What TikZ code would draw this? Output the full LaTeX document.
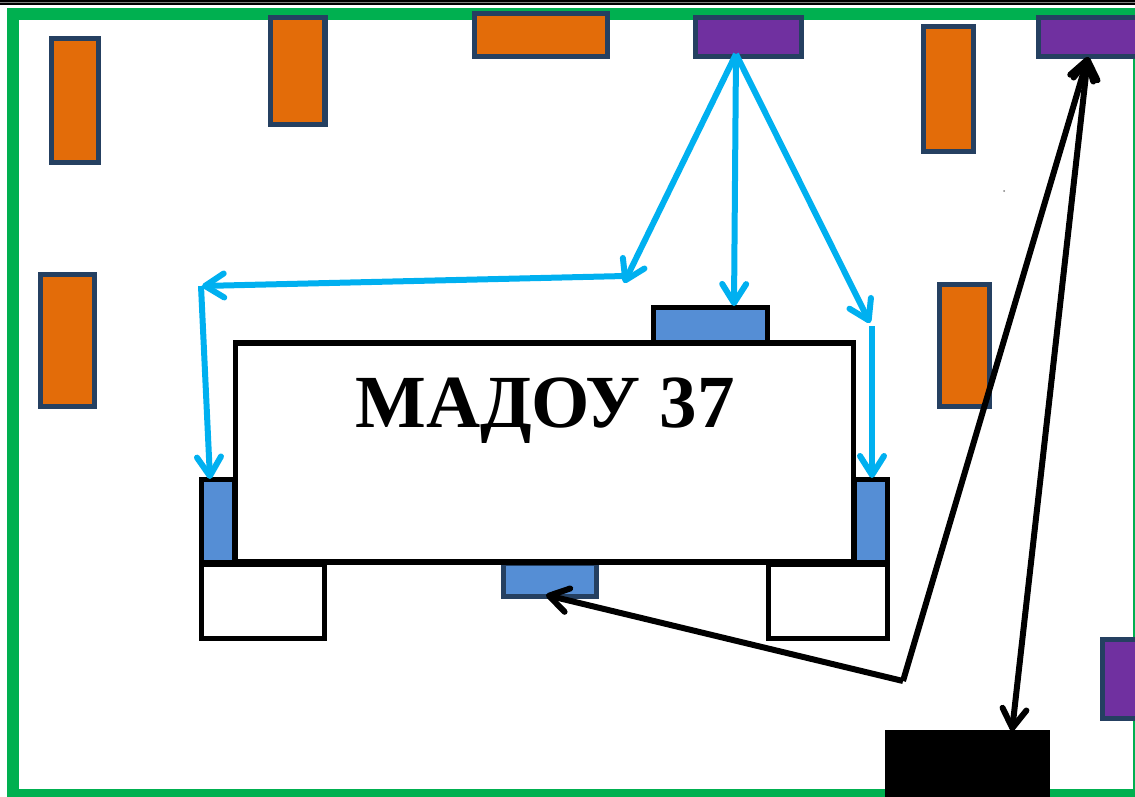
\documentclass[tikz,border=0pt]{standalone}
\usepackage{fontspec}
\setmainfont{Liberation Serif}
\usetikzlibrary{arrows.meta}
\definecolor{frameG}{HTML}{00B050}
\definecolor{orangeF}{HTML}{E36C09}
\definecolor{purpleF}{HTML}{7030A0}
\definecolor{navyB}{HTML}{254061}
\definecolor{blueF}{HTML}{558ED5}
\definecolor{cyanA}{HTML}{00B0F0}
\tikzset{
  boxbase/.style={rectangle,inner sep=0pt,outer sep=0pt,line width=5.4pt},
  orangebox/.style={boxbase,draw=navyB,fill=orangeF},
  purplebox/.style={boxbase,draw=navyB,fill=purpleF},
  bluenavy/.style={boxbase,draw=navyB,fill=blueF},
  blueblack/.style={boxbase,draw=black,fill=blueF},
  whitebox/.style={boxbase,draw=black,fill=white},
  cyanline/.style={draw=cyanA,line width=6pt},
  blackline/.style={draw=black,line width=6pt},
  >={Straight Barb[length=19pt,width=24pt,line width=6pt,line cap=round,round]},
}
\newcommand{\bx}[6]{\node[#1,minimum width=#4pt-#3pt,minimum height=#6pt-#5pt] (#2) at ({(#3+#4)/2},{(#5+#6)/2}) {};}
\begin{document}
\begin{tikzpicture}[x=1pt,y=-1pt]
\useasboundingbox (0,0) rectangle (1135,796);
\clip (0,0) rectangle (1135,796);
\fill[white] (0,0) rectangle (1135,796);
\fill[black] (0,0) rectangle (1135,4.5);
\fill[gray] (0,1.6) rectangle (1135,2.6);
\draw[frameG,line width=12pt] (13,13.5) rectangle (1139,795);
\bx{orangebox}{o1}{51.5}{98.5}{38.5}{162.5}
\bx{orangebox}{o2}{270.5}{325}{17.5}{124.5}
\bx{orangebox}{o3}{474.5}{607.5}{13.5}{56.5}
\bx{purplebox}{p1}{695.5}{801.5}{17.5}{56.5}
\bx{orangebox}{o4}{923.5}{973.5}{26.5}{151.5}
\bx{purplebox}{p2}{1038.5}{1180}{17.5}{56.5}
\bx{orangebox}{o5}{40.5}{94.5}{274.5}{406.5}
\bx{orangebox}{o6}{939.5}{989.5}{284.5}{406.5}
\bx{purplebox}{p3}{1102.5}{1180}{639.5}{718.5}
\node[rectangle,fill=black,inner sep=0pt,minimum width=165pt,minimum height=70pt] (b1) at (967.5,764.5) {};
\bx{whitebox}{w1}{201.5}{324.5}{564}{638.5}
\bx{whitebox}{w2}{768.5}{887.5}{564}{638.5}
\bx{blueblack}{t1}{653.5}{767.5}{307.5}{343.5}
\bx{blueblack}{l1}{201.5}{235}{479.5}{562.5}
\bx{blueblack}{r1}{854.5}{887.5}{479.5}{562.5}
\bx{bluenavy}{s1}{503.5}{596.5}{563}{596.5}
\node[boxbase,draw=black,minimum width=618pt,minimum height=219pt] (m1) at (544.5,452.5) {};
\node[font=\bfseries\fontsize{75}{75}\selectfont,inner sep=0pt] (title) at (545,411) {МАДОУ 37};
\fill[gray] (1004,191) circle (1pt);
% free ends
\coordinate (c0) at (736,54);
\coordinate (c1) at (624,283);
\coordinate (c2) at (734,306);
\coordinate (c3) at (870,323);
\coordinate (c4) at (625,276);
\coordinate (c5) at (202,286);
\coordinate (c6) at (201,286);
\coordinate (c7) at (210,479);
\coordinate (c8) at (872,326);
\coordinate (c9) at (872,478);
\coordinate (k0) at (903,681);
\coordinate (k1) at (546,595);
\coordinate (k2) at (1088,57);
\coordinate (k3) at (1012,731);
\draw[cyanline,->] (c0) -- (c1);
\draw[cyanline,->] (c0) -- (c2);
\draw[cyanline,->] (c0) -- (c3);
\draw[cyanline,->] (c4) -- (c5);
\draw[cyanline,->] (c6) -- (c7);
\draw[cyanline,->] (c8) -- (c9);
\draw[blackline,->] (k0) -- (k1);
\draw[blackline,->] (k0) -- (k2);
\draw[blackline,<->] (k2) -- (k3);
\end{tikzpicture}
\end{document}
